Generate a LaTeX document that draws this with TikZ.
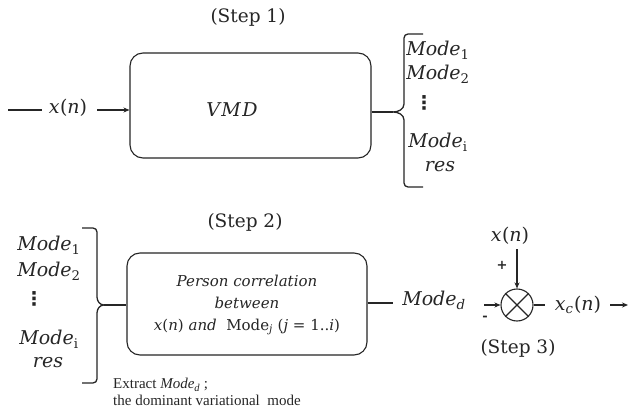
\documentclass[tikz,border=0pt]{standalone}
\usepackage{fontspec}
\newfontfamily\cam{DejaVu Serif}
\newfontfamily\dotfont{DejaVu Sans}
\newfontfamily\timesfont{Liberation Serif}
\usetikzlibrary{arrows.meta}
\definecolor{ink}{HTML}{262626}
\newcommand{\mv}[1]{{\itshape #1}}
\newcommand{\sbs}[1]{\textsubscript{#1}}
\tikzset{
  lab/.style={font=\cam\fontsize{19}{23}\selectfont, inner sep=0pt, text=ink},
  dotlab/.style={font=\dotfont\bfseries\fontsize{19}{21}\selectfont, inner sep=0pt, text=ink},
  stp/.style={font=\cam\fontsize{18.5}{22}\selectfont, inner sep=0pt, text=ink},
  blockbox/.style={draw=ink, line width=1.1pt, rounded corners=13pt, inner sep=0pt},
  boxtxt/.style={font=\cam\fontsize{15}{22}\selectfont, align=center, inner sep=0pt, text=ink},
  ln/.style={draw=ink, line width=1.1pt},
  arr/.style={draw=ink, line width=1.1pt, -{Stealth[length=6pt,width=5pt]}},
  brc/.style={draw=ink, line width=1.3pt},
  note/.style={font=\timesfont\fontsize{15}{17}\selectfont, inner sep=0pt, anchor=west, text=ink},
  sumnode/.style={draw=ink, line width=1.1pt, circle, minimum size=32pt, inner sep=0pt},
  sign/.style={font=\cam\bfseries\fontsize{13}{15}\selectfont, inner sep=0pt, text=ink}
}
\begin{document}
\begin{tikzpicture}[x=1pt,y=-1pt]
\useasboundingbox (0,0) rectangle (632,417);
\fill[white] (0,0) rectangle (632,417);

% ---------- Step 1 ----------
\node[stp] (step1) at (248,17) {(Step 1)};
\node[blockbox, minimum width=241pt, minimum height=105pt] (vmd) at (250.5,105.5) {};
\node[lab] (vmdtext) at (232,110) {\mv{V\kern1.5pt M\kern1.5pt D}};
\coordinate (in1) at (8,110);
\node[lab] (xn1) at (68,108) {\mv{x}\kern0.5pt(\mv{n})};
\coordinate (in1b) at (42,110);
\coordinate (in1c) at (97,110);
\draw[ln] (in1) -- (in1b);
\draw[arr] (in1c) -- (vmd.west |- in1c);

\coordinate (cusp1) at (393,112);
\draw[ln] (vmd.east |- cusp1) -- (cusp1);
\draw[brc] (423,34) -- (408,34) to[out=180,in=90] (404,38) -- (404,104)
  to[out=-90,in=0] (cusp1) to[out=0,in=90] (404,120) -- (404,183)
  to[out=-90,in=180] (408,187) -- (423,187);

\node[lab] (m1a) at (438,50) {\mv{Mode}\sbs{1}};
\node[lab] (m2a) at (438,74) {\mv{Mode}\sbs{2}};
\node[dotlab] (dta) at (424,103) {⋮};
\node[lab] (mia) at (438,142) {\mv{Mode}\sbs{i}};
\node[lab] (resa) at (440,167) {\mv{res}};

% ---------- Step 2 ----------
\node[stp] (step2) at (245,222) {(Step 2)};
\node[lab] (m1b) at (49,245) {\mv{Mode}\sbs{1}};
\node[lab] (m2b) at (49,271) {\mv{Mode}\sbs{2}};
\node[dotlab] (dtb) at (34,299) {⋮};
\node[lab] (mib) at (49,339) {\mv{Mode}\sbs{i}};
\node[lab] (resb) at (48,363) {\mv{res}};

\coordinate (cusp2) at (104,305);
\draw[brc] (82,228) -- (93,228) to[out=0,in=90] (97,232) -- (97,297)
  to[out=-90,in=180] (cusp2) to[out=180,in=90] (97,313) -- (97,379)
  to[out=-90,in=0] (93,383) -- (82,383);

\node[blockbox, minimum width=240pt, minimum height=102pt] (corr) at (247,304) {};
\draw[ln] (cusp2) -- (corr.west |- cusp2);
\node[boxtxt] (corrtext) at (247,305)
  {\mv{Person correlation}\\ \mv{between}\\ \mv{x}(\mv{n}) \mv{and}\ \ Mode\sbs{\mv{j}} (\mv{j} = 1..\mv{i})};

\coordinate (mdin) at (393,303);
\draw[ln] (corr.east |- mdin) -- (mdin);
\node[lab] (modd) at (434,300) {\mv{Mode}\sbs{\mv{d}}};

\node[note] (ex1) at (113,385) {Extract \textit{Mode}\textsubscript{\textit{d}} ;};
\node[note] (ex2) at (113,400) {the dominant variational\ \ mode};

% ---------- Step 3 ----------
\node[sumnode] (sum) at (517,305) {};
\draw[ln] (sum.north west) -- (sum.south east);
\draw[ln] (sum.north east) -- (sum.south west);
\node[lab] (xn2) at (510,236) {\mv{x}\kern0.5pt(\mv{n})};
\coordinate (xtop) at (517,249);
\draw[arr] (xtop) -- (sum.north);
\node[sign] (plus) at (502,265) {+};
\coordinate (lin) at (484,305);
\draw[arr] (lin) -- (sum.west);
\node[sign] (minus) at (485,318) {-};
\coordinate (rout) at (545,305);
\draw[ln] (sum.east) -- (rout);
\node[lab] (xc) at (578,305) {\mv{x}\sbs{\mv{c}}\kern0.5pt(\mv{n})};
\coordinate (ra) at (610,305);
\coordinate (rb) at (628,305);
\draw[arr] (ra) -- (rb);
\node[stp] (step3) at (518,348) {(Step 3)};
\end{tikzpicture}
\end{document}
